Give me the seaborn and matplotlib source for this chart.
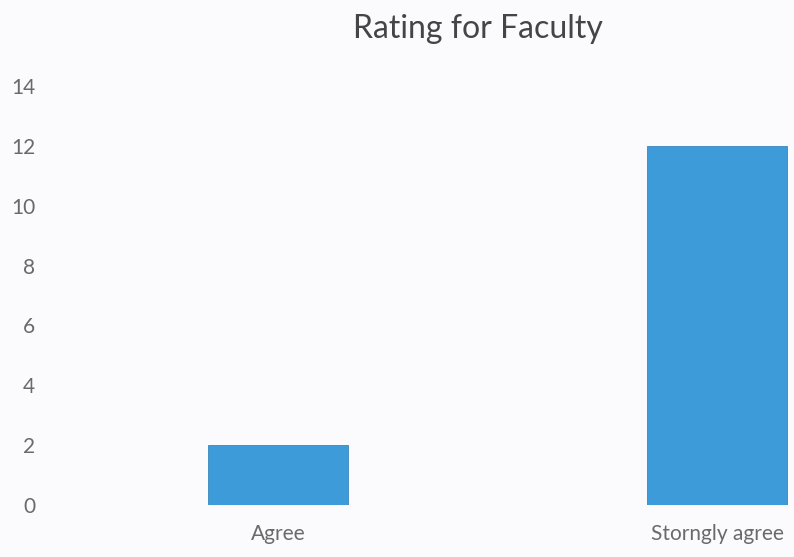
import pandas as pd
import matplotlib.pyplot as plt
import seaborn as sns

# data
ratings = ["Agree", "Storngly agree"]
counts = [2, 12]
y_ticks = [0, 2, 4, 6, 8, 10, 12, 14]

df = pd.DataFrame({"rating": ratings, "count": counts})

sns.set_theme(style="white")
plt.rcParams["font.family"] = ["Lato", "DejaVu Sans"]

fig = plt.figure(figsize=(7.94, 5.57), dpi=100, facecolor="#fbfbfd")
ax = fig.add_axes([0.074, 0.0934, 0.926, 0.7522])
ax.set_facecolor("#fbfbfd")

sns.barplot(data=df, x="rating", y="count", color="#3d9bd9", width=0.32,
            saturation=1, ax=ax, edgecolor="#3a86bd", linewidth=0.6)

ax.set_xlim(-0.5, 1.175)
ax.set_ylim(0, 14)
ax.set_yticks(y_ticks)
ax.tick_params(axis="both", length=0, labelsize=15, labelcolor="#6a6a6a")
ax.tick_params(axis="y", pad=17)
ax.tick_params(axis="x", pad=14)
ax.set_xlabel("")
ax.set_ylabel("")
sns.despine(ax=ax, left=True, bottom=True)

fig.text(0.602, 0.948, "Rating for Faculty", ha="center", va="center",
         fontsize=23, color="#454545")

fig.savefig("out.png", dpi=100, facecolor=fig.get_facecolor())
